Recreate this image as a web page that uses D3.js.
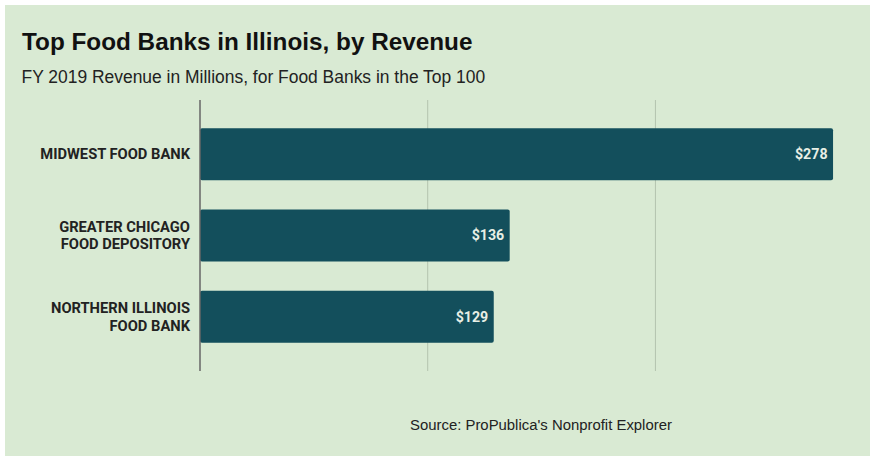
<!DOCTYPE html>
<html>
<head>
<meta charset="utf-8">
<script src="https://cdn.jsdelivr.net/npm/d3@7"></script>
<style>
  html, body { margin: 0; padding: 0; background: #ffffff; }
  svg { display: block; }
</style>
</head>
<body>
<svg id="chart" width="870" height="456"></svg>
<script>
// Data
const categories = [
  ["MIDWEST FOOD BANK"],
  ["GREATER CHICAGO", "FOOD DEPOSITORY"],
  ["NORTHERN ILLINOIS", "FOOD BANK"]
];
const revenue = [278, 136, 129];
const valueLabels = ["$278", "$136", "$129"];
const tickValues = [0, 100, 200];

const title = "Top Food Banks in Illinois, by Revenue";
const subtitle = "FY 2019 Revenue in Millions, for Food Banks in the Top 100";
const source = "Source: ProPublica's Nonprofit Explorer";

const svg = d3.select("#chart");
const W = 870, H = 456;

svg.append("rect").attr("x", 5).attr("y", 5).attr("width", W - 5).attr("height", H - 5)
  .attr("fill", "#d9ead3");

const x = d3.scaleLinear().domain([0, 280]).range([200, 837.6]);
const y = d3.scaleBand().domain(d3.range(categories.length)).range([100, 371])
  .paddingInner(0.36).paddingOuter(0.347);

// gridlines
svg.append("g").selectAll("line").data(tickValues.slice(1)).join("line")
  .attr("x1", d => x(d)).attr("x2", d => x(d))
  .attr("y1", 100).attr("y2", 371)
  .attr("stroke", "#b4c3ae").attr("stroke-width", 1);

// bars
svg.append("g").selectAll("rect").data(revenue).join("rect")
  .attr("x", x(0))
  .attr("y", (d, i) => y(i))
  .attr("width", d => x(d) - x(0))
  .attr("height", y.bandwidth())
  .attr("rx", 2).attr("ry", 2)
  .attr("fill", "#134f5c");

// baseline
svg.append("line").attr("x1", x(0)).attr("x2", x(0)).attr("y1", 100).attr("y2", 371)
  .attr("stroke", "#666666").attr("stroke-width", 1.5);

// value labels
svg.append("g").selectAll("text").data(revenue).join("text")
  .attr("x", d => x(d) - 5.5)
  .attr("y", (d, i) => y(i) + y.bandwidth() / 2)
  .attr("dy", "0.35em")
  .attr("text-anchor", "end")
  .attr("font-family", "Roboto, sans-serif")
  .attr("font-weight", "bold")
  .attr("font-size", 14.2)
  .attr("fill", "#e8efe6")
  .text((d, i) => valueLabels[i]);

// category labels
const catG = svg.append("g");
categories.forEach((lines, i) => {
  const cy = y(i) + y.bandwidth() / 2;
  const lh = 17.6;
  const t = catG.append("text")
    .attr("text-anchor", "end")
    .attr("font-family", "Roboto, sans-serif")
    .attr("font-weight", "bold")
    .attr("font-size", 14.7)
    .attr("fill", "#222222");
  lines.forEach((ln, j) => {
    t.append("tspan")
      .attr("x", 190)
      .attr("y", cy + (j - (lines.length - 1) / 2) * lh)
      .attr("dy", "0.35em")
      .text(ln);
  });
});

// titles
svg.append("text").attr("x", 22).attr("y", 50)
  .attr("font-family", "'Liberation Sans', Arial, sans-serif")
  .attr("font-weight", "bold").attr("font-size", 24.3).attr("fill", "#111111")
  .text(title);
svg.append("text").attr("x", 21.5).attr("y", 82.5)
  .attr("font-family", "'Liberation Sans', Arial, sans-serif")
  .attr("font-size", 17.45).attr("fill", "#222222")
  .text(subtitle);
svg.append("text").attr("x", 410).attr("y", 430)
  .attr("font-family", "'Liberation Sans', Arial, sans-serif")
  .attr("font-size", 14.9).attr("fill", "#222222")
  .text(source);
</script>
</body>
</html>
